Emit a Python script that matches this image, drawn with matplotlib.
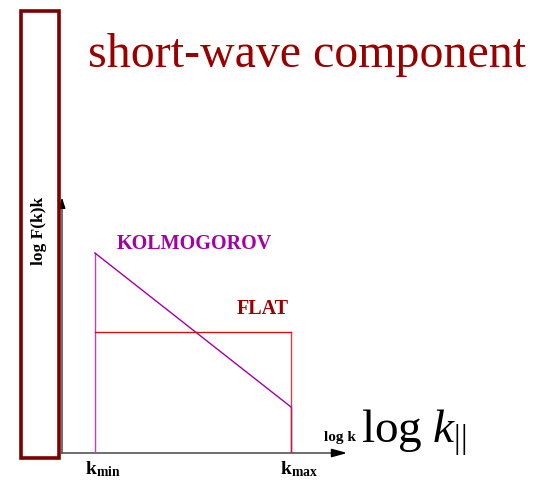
import matplotlib
matplotlib.use('Agg')
import matplotlib.pyplot as plt
from matplotlib.patches import Rectangle

plt.rcParams['font.family'] = ['Liberation Serif', 'DejaVu Serif']
plt.rcParams['mathtext.fontset'] = 'custom'
plt.rcParams['mathtext.rm'] = 'Liberation Serif'
plt.rcParams['mathtext.it'] = 'Liberation Serif:italic'
plt.rcParams['mathtext.bf'] = 'Liberation Serif:bold'

# log k positions
log_kmin = 0.48
log_kmax = 3.34
x_end = 4.2

# log F(k)k values
kolmogorov = [4.0, 0.92]   # at kmin, kmax
flat = 2.42
y_top = 5.16

W, H = 534, 483
fig = plt.figure(figsize=(W / 100, H / 100), dpi=100)


def fx(px):
    return px / W


def fy(py):
    return 1 - py / H


# plot area
ax = fig.add_axes([fx(62), fy(453), (350 - 62) / W, (453 - 195) / H])
ax.set_xlim(0, x_end)
ax.set_ylim(0, y_top)
ax.axis('off')

purple = '#a400a4'
red = '#990000'

# axes with arrows
ax.plot([0, x_end - 0.2], [0, 0], color='#555555', lw=1.2, clip_on=False)
ax.plot([0, 0], [0, y_top - 0.1], color='#555555', lw=1.2, clip_on=False)
ax.annotate('', xy=(x_end, 0), xytext=(x_end - 0.3, 0),
            arrowprops=dict(arrowstyle='-|>,head_length=0.9,head_width=0.25',
                            color='black', lw=1.2), annotation_clip=False)
ax.annotate('', xy=(0, y_top), xytext=(0, y_top - 0.25),
            arrowprops=dict(arrowstyle='-|>,head_length=0.6,head_width=0.2',
                            color='black', lw=1), annotation_clip=False)

# kolmogorov spectrum
ax.plot([log_kmin, log_kmin], [0, kolmogorov[0]], color='#c040c0', lw=1)
ax.plot([log_kmin, log_kmax], kolmogorov, color=purple, lw=1)
ax.plot([log_kmax, log_kmax], [0, kolmogorov[1]], color=purple, lw=1)

# flat spectrum
ax.plot([log_kmin, log_kmax], [flat, flat], color='#cc1111', lw=1)
ax.plot([log_kmax, log_kmax], [0, flat], color='#cc2222', lw=1, alpha=0.85)

# frame on the left
fig.patches.append(Rectangle((fx(21), fy(458)), (58.5 - 21) / W, (458 - 10.5) / H,
                             transform=fig.transFigure, fill=False,
                             edgecolor='#7c0000', lw=2.6))

fig.text(fx(88), fy(67), 'short-wave component', color=red, fontsize=34.5,
         va='baseline', ha='left')
fig.text(fx(117), fy(244), 'KOLMOGOROV', color=purple, fontsize=14.5,
         fontweight='bold', va='center', ha='left')
fig.text(fx(237), fy(309), 'FLAT', color=red, fontsize=14.5,
         fontweight='bold', va='center', ha='left')
fig.text(fx(39), fy(231), 'log F(k)k', color='black', fontsize=12.5,
         fontweight='bold', rotation=90, va='center', ha='center')
fig.text(fx(85), fy(469), r'$\mathbf{k}_{\mathbf{min}}$', fontsize=14,
         va='center', ha='left')
fig.text(fx(280), fy(469), r'$\mathbf{k}_{\mathbf{max}}$', fontsize=14,
         va='center', ha='left')
fig.text(fx(324), fy(441), 'log k', fontsize=11, fontweight='bold',
         va='baseline', ha='left')
fig.text(fx(361), fy(443), r'$\mathrm{log}\ k_{||}$', fontsize=34,
         va='baseline', ha='left')

fig.savefig('out.png', dpi=100)
